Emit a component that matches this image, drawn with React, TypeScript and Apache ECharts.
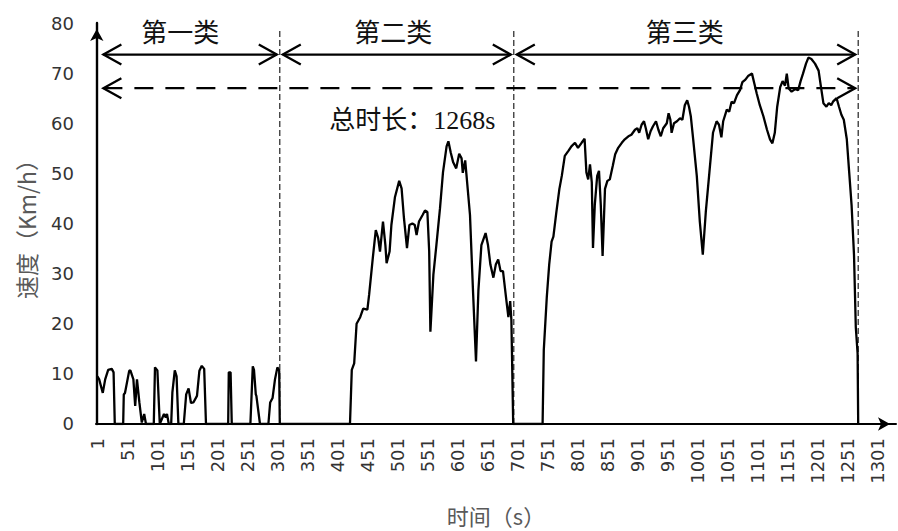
import React, { useEffect, useRef } from "react";
import * as echarts from "echarts";

// ---- data: driving cycle speed trace (time in s, speed in km/h) ----
const timeSec = [
  1, 4, 10, 14, 19, 25, 28, 30, 44, 45, 47, 54, 56, 61, 64, 67, 71, 75, 79, 82,
  95, 97, 101, 105, 112, 115, 117, 120, 124, 126, 130, 133, 136, 145, 149, 153, 157, 161, 167, 171,
  175, 179, 182, 219, 220, 223, 225, 256, 260, 262, 265, 266, 272, 286, 289, 293, 297, 301, 304, 305,
  422, 425, 429, 433, 439, 444, 451, 454, 460, 465, 469, 472, 477, 481, 483, 488, 491, 497, 504, 508,
  512, 517, 521, 526, 530, 533, 537, 543, 547, 551, 554, 556, 561, 566, 572, 577, 583, 586, 590, 594,
  599, 604, 608, 610, 614, 616, 622, 627, 632, 636, 641, 648, 652, 656, 661, 665, 669, 673, 677, 682,
  686, 689, 691, 694, 743, 745, 750, 754, 758, 761, 766, 771, 775, 780, 786, 791, 797, 802, 808, 813,
  816, 819, 822, 825, 827, 830, 834, 837, 840, 843, 847, 851, 855, 860, 864, 869, 875, 880, 886, 891,
  897, 901, 904, 908, 912, 915, 919, 923, 927, 932, 936, 940, 944, 950, 953, 956, 958, 962, 967, 972,
  976, 980, 984, 987, 990, 994, 1000, 1005, 1010, 1015, 1021, 1027, 1033, 1037, 1041, 1044, 1050, 1054, 1058, 1062,
  1067, 1072, 1076, 1081, 1086, 1092, 1096, 1100, 1105, 1111, 1117, 1122, 1126, 1130, 1134, 1139, 1143, 1147, 1150, 1153,
  1158, 1164, 1169, 1173, 1177, 1182, 1186, 1191, 1197, 1203, 1207, 1211, 1216, 1220, 1224, 1227, 1233, 1237, 1241, 1245,
  1250, 1254, 1258, 1262, 1265, 1268, 1269,
];
const speedKmh = [
  9.5, 8.9, 6.2, 8.9, 10.8, 11, 10.3, 0, 0, 5.9, 6.2, 10.6, 10.7, 8.9, 3.6, 8.9, 4.3, 0.3, 2, 0,
  0, 11.3, 10.7, 0, 2, 1.3, 2, 0, 0, 6.3, 10.7, 9.5, 0, 0, 5.9, 7.1, 4.2, 4.3, 5.6, 10.6,
  11.6, 11, 0, 0, 10.3, 10.3, 0, 0, 11.5, 10.8, 5.9, 5.6, 0, 0, 4.3, 5.2, 8.9, 11.3, 10.6, 0,
  0, 10.8, 12.1, 20, 21.3, 23, 22.8, 25.9, 33.1, 38.7, 37.1, 34.4, 40.4, 35.7, 32.1, 34.4, 39.7, 45.3, 48.5, 47,
  41, 35.1, 39.7, 40, 39.7, 37.7, 40.4, 41.7, 42.6, 42.3, 34.4, 18.4, 29.8, 35.7, 43, 50.2, 55.4, 56.4, 54.1, 52.2,
  51, 53.9, 53, 50.1, 52.6, 49.9, 41.7, 26.6, 12.5, 26.6, 35.7, 38.1, 35.7, 31.8, 29.2, 31.8, 32.8, 30.5, 30.5, 25.3,
  21.3, 24.5, 20.7, 0, 0, 14.8, 25.3, 31.8, 36.4, 37.4, 42.3, 46.9, 49.5, 53.5, 54.5, 55.4, 56.1, 55.1, 56.1, 56.9,
  50.2, 48.8, 51.8, 48.2, 35.1, 43.7, 49.5, 50.5, 43.7, 33.5, 46.9, 48.5, 48.8, 51.5, 53.8, 55.1, 56.1, 56.8, 57.4, 57.7,
  58.7, 59, 58.1, 59.7, 60.4, 59, 56.8, 58.4, 59.4, 60.4, 58.7, 57.4, 59, 60, 62, 60.7, 58.1, 60, 60.4, 61,
  60.7, 63.6, 64.6, 63.3, 61.4, 56.8, 49.5, 40.4, 33.8, 42.3, 50.2, 58.1, 60.4, 59.7, 57.2, 60.4, 62.7, 62.3, 64.3, 64,
  65.6, 66.6, 68.2, 68.7, 69.5, 69.9, 67.9, 65.9, 63.6, 61.4, 58.7, 56.8, 56, 58.1, 63.3, 67.2, 68.4, 67.5, 69.9, 67,
  66.3, 66.8, 66.6, 68.4, 69.9, 71.9, 73.1, 72.8, 71.9, 70.5, 67.2, 64, 63.3, 64, 63.6, 64.3, 65, 63.3, 61.7, 60.7,
  56.8, 50.2, 43.6, 33.8, 19.3, 14.1, 0,
];

// x tick labels (seconds)
const xTickLabels = [
  1, 51, 101, 151, 201, 251, 301, 351, 401, 451, 501, 551, 601, 651,
  701, 751, 801, 851, 901, 951, 1001, 1051, 1101, 1151, 1201, 1251, 1301,
];

// annotation anchors (data space)
const classNames = ["第一类", "第二类", "第三类"];
const classLabelTime = [139, 494, 980];
const classLabelSpeed = 78.6;
const classBoundaryTime = [305, 695, 1269];
const boundaryTopSpeed = 78.7;
const classArrowStart = [11, 310, 700];
const classArrowEnd = [300, 690, 1264];
const classArrowSpeed = 73.7;
const totalArrow = [11, 1264];
const totalArrowSpeed = 67;
const totalLabel = "总时长：1268s";
const totalLabelPos = [526, 60.5];

const CJK = '"Noto Sans CJK SC"';

export default function App() {
  const ref = useRef<HTMLDivElement>(null);

  useEffect(() => {
    if (!ref.current) return;
    const chart = echarts.init(ref.current, undefined, { renderer: "svg" });

    const lineData = timeSec.map((t, i) => [t, speedKmh[i]]);

    const arrowData = classArrowStart.map((s, i) => [s, classArrowEnd[i], classArrowSpeed, 0]);
    arrowData.push([totalArrow[0], totalArrow[1], totalArrowSpeed, 1]);

    const textItems = classNames.map((n, i) => ({ text: n, t: classLabelTime[i], v: classLabelSpeed, size: 26, fam: CJK }));
    textItems.push({ text: totalLabel, t: totalLabelPos[0], v: totalLabelPos[1], size: 26, fam: '"Liberation Serif", ' + CJK });

    const option: any = {
      animation: false,
      backgroundColor: "#ffffff",
      grid: { left: 96, right: 2, top: 23, bottom: 103, containLabel: false },
      xAxis: {
        type: "value",
        min: -1.3,
        max: 1332,
        name: "时间（s）",
        nameLocation: "middle",
        nameGap: 80,
        nameTextStyle: { fontFamily: CJK + ', "DejaVu Sans"', fontSize: 22, color: "#595959" },
        axisLine: {
          show: true,
          onZero: false,
          lineStyle: { color: "#000", width: 2 },
          symbol: ["none", "arrow"],
          symbolSize: [10, 12],
          symbolOffset: [0, -6],
        },
        axisTick: { show: false },
        splitLine: { show: false },
        axisLabel: {
          customValues: xTickLabels,
          rotate: 90,
          margin: 14,
          fontFamily: '"DejaVu Sans"',
          fontSize: 18,
          color: "#333",
          formatter: (v: number) => String(v),
        },
      },
      yAxis: {
        type: "value",
        min: 0,
        max: 80,
        interval: 10,
        name: "速度（Km/h）",
        nameLocation: "middle",
        nameGap: 59,
        nameTextStyle: { fontFamily: CJK + ', "DejaVu Sans"', fontSize: 23, color: "#595959" },
        axisLine: {
          show: true,
          lineStyle: { color: "#000", width: 2.4 },
          symbol: ["none", "arrow"],
          symbolSize: [10, 12],
          symbolOffset: [0, -6],
        },
        axisTick: { show: false },
        splitLine: { show: false },
        axisLabel: {
          margin: 22,
          fontFamily: '"DejaVu Sans"',
          fontSize: 18,
          color: "#333",
        },
      },
      series: [
        {
          type: "custom",
          silent: true,
          z: 1,
          data: classBoundaryTime.map((t) => [t, boundaryTopSpeed]),
          encode: { x: 0, y: 1 },
          renderItem: (params: any, api: any) => {
            const a = api.coord([api.value(0), 0]);
            const b = api.coord([api.value(0), api.value(1)]);
            return {
              type: "line",
              shape: { x1: a[0], y1: a[1], x2: b[0], y2: b[1] },
              style: { stroke: "#222", lineWidth: 1.2, lineDash: [6, 3], fill: null },
            };
          },
        },
        {
          type: "line",
          z: 3,
          data: lineData,
          showSymbol: false,
          symbol: "none",
          lineStyle: { color: "#000", width: 2.3 },
          itemStyle: { color: "#000" },
        },
        {
          type: "custom",
          silent: true,
          z: 4,
          data: arrowData,
          encode: { x: [0, 1], y: 2 },
          renderItem: (params: any, api: any) => {
            const a = api.coord([api.value(0), api.value(2)]);
            const b = api.coord([api.value(1), api.value(2)]);
            const dashed = api.value(3) === 1;
            const L = 18;
            const W = 10;
            const base = { stroke: "#000", lineWidth: 2.3, fill: null };
            return {
              type: "group",
              children: [
                {
                  type: "line",
                  shape: { x1: a[0], y1: a[1], x2: b[0], y2: b[1] },
                  style: { ...base, lineDash: dashed ? [19, 12] : null },
                },
                {
                  type: "polyline",
                  shape: { points: [[a[0] + L, a[1] - W], [a[0], a[1]], [a[0] + L, a[1] + W]] },
                  style: base,
                },
                {
                  type: "polyline",
                  shape: { points: [[b[0] - L, b[1] - W], [b[0], b[1]], [b[0] - L, b[1] + W]] },
                  style: base,
                },
              ],
            };
          },
        },
        {
          type: "custom",
          silent: true,
          z: 5,
          data: textItems.map((d) => [d.t, d.v]),
          encode: { x: 0, y: 1 },
          renderItem: (params: any, api: any) => {
            const p = api.coord([api.value(0), api.value(1)]);
            const d = textItems[params.dataIndex];
            return {
              type: "text",
              x: p[0],
              y: p[1],
              style: {
                text: d.text,
                fontSize: d.size,
                fontFamily: d.fam,
                fill: "#111",
                align: "center",
                verticalAlign: "middle",
              },
            };
          },
        },
      ],
    };

    chart.setOption(option);
    return () => chart.dispose();
  }, []);

  return (
    <div
      ref={ref}
      style={{ position: "absolute", left: 0, top: 0, width: 898, height: 531, background: "#fff" }}
    />
  );
}
